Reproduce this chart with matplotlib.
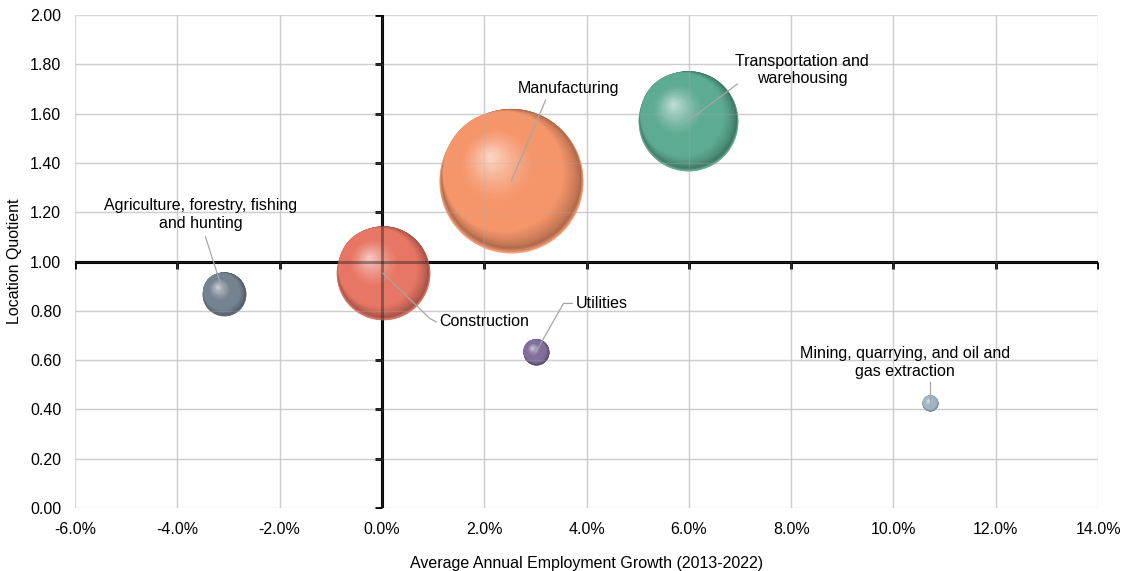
import numpy as np
import matplotlib
matplotlib.use('Agg')
import matplotlib.pyplot as plt
from matplotlib.colors import to_rgb
from matplotlib.transforms import ScaledTranslation
from matplotlib.ticker import FuncFormatter, MultipleLocator

plt.rcParams['font.family'] = ['Liberation Sans', 'DejaVu Sans']
plt.rcParams['font.size'] = 11.5

# data
industries = ['Agriculture, forestry, fishing\nand hunting', 'Construction', 'Manufacturing',
              'Transportation and\nwarehousing', 'Utilities',
              'Mining, quarrying, and oil and\ngas extraction']
growth = [-3.09, 0.02, 2.53, 5.98, 3.01, 10.72]      # %
lq = [0.868, 0.953, 1.327, 1.57, 0.633, 0.426]
employment = [480, 2200, 5200, 2500, 170, 64]        # bubble size
colors = ['#75828f', '#e87664', '#f5956a', '#5dab92', '#826e9b', '#9fb5c5']

# label placement
label_xy = [(-3.54, 1.19), (1.12, 0.755), (3.64, 1.70), (8.21, 1.777), (3.78, 0.83), (10.22, 0.59)]
label_ha = ['center', 'left', 'center', 'center', 'left', 'center']

fig = plt.figure(figsize=(11.23, 5.71), dpi=100)
ax = fig.add_axes([0.0668, 0.1103, 0.911, 0.8634])

ax.set_xlim(-6, 14)
ax.set_ylim(0, 2)
ax.xaxis.set_major_locator(MultipleLocator(2))
ax.yaxis.set_major_locator(MultipleLocator(0.2))
ax.xaxis.set_major_formatter(FuncFormatter(lambda v, p: f'{v:.1f}%'))
ax.yaxis.set_major_formatter(FuncFormatter(lambda v, p: f'{v:.2f}'))
ax.grid(True, color='#d9d9d9', lw=1, zorder=0)
for s in ax.spines.values():
    s.set_visible(False)
ax.tick_params(length=0, labelsize=11.5, pad=10)
ax.set_xlabel('Average Annual Employment Growth (2013-2022)', fontsize=11.5, labelpad=14)
ax.set_ylabel('Location Quotient', fontsize=11.5, labelpad=6)

# quadrant axes
ax.axhline(1, color='black', lw=2.2, zorder=2)
ax.axvline(0, color='black', lw=2.2, zorder=2)
xt = np.arange(-6, 15, 2)
yt = np.arange(0, 2.01, 0.2)
ax.plot(xt, np.ones_like(xt), ls='none', marker=3, ms=5, mew=2, color='black', zorder=2)
ax.plot(np.zeros_like(yt), yt, ls='none', marker=0, ms=5, mew=2, color='black', zorder=2)

scale = 2.07


def shift(dx, dy):
    return ax.transData + ScaledTranslation(dx / 72, dy / 72, fig.dpi_scale_trans)


def sphere(x, y, size, color):
    base = np.array(to_rgb(color))
    dark = base * 0.7
    rim = base + (1 - base) * 0.1
    light = base + (1 - base) * 0.6
    r = np.sqrt(size) / 2
    ax.scatter([x], [y], s=size, color=rim, lw=0, zorder=3)
    # soft lower rim
    n = 6
    for i in range(n):
        t = (i + 1) / n
        c = rim + (dark - rim) * t
        ax.scatter([x], [y], s=size * (1 - 0.035 * t) ** 2, color=c, lw=0, zorder=3,
                   transform=shift(0, 0.035 * r * t))
    # dark edge -> base body
    n = 18
    for i in range(n):
        t = i / (n - 1)
        sc = 0.965 - 0.13 * t
        c = dark + (base - dark) * t ** 0.7
        ax.scatter([x], [y], s=size * sc ** 2, color=c, lw=0, zorder=3,
                   transform=shift(-0.12 * r * t, 0.035 * r + 0.1 * r * t))
    # soft highlight
    n = 22
    for i in range(n):
        t = i / (n - 1)
        sc = 0.5 * (1 - t) + 0.03
        c = base + (light - base) * t ** 1.3
        ax.scatter([x], [y], s=size * sc ** 2, color=c, lw=0, zorder=3,
                   transform=shift(-0.2 * r - 0.1 * r * t, 0.22 * r + 0.12 * r * t))


for gx, gy, e, c in zip(growth, lq, employment, colors):
    sphere(gx, gy, e * scale, c)

# gridlines and axis lines faintly showing through bubbles
for v in xt[1:-1]:
    ax.axvline(v, color='#b0b0b0', lw=1, alpha=0.25, zorder=4)
for v in yt[1:-1]:
    ax.axhline(v, color='#b0b0b0', lw=1, alpha=0.25, zorder=4)
ax.axhline(1, color='black', lw=2.2, alpha=0.35, zorder=4)
ax.axvline(0, color='black', lw=2.2, alpha=0.35, zorder=4)

# labels with leader lines
lc = '#a6a6a6'
for i, name in enumerate(industries):
    lx, ly = label_xy[i]
    ax.text(lx, ly, name, ha=label_ha[i], va='center', fontsize=11.5, zorder=6,
            linespacing=1.2)

ax.plot([growth[0], -3.45], [lq[0], 1.10], color=lc, lw=0.9, zorder=5)
ax.plot([growth[1], 0.93, 1.06], [lq[1], 0.77, 0.755], color=lc, lw=0.9, zorder=5)
ax.plot([growth[2], 3.2], [lq[2], 1.655], color=lc, lw=0.9, zorder=5)
ax.plot([growth[3], 6.95], [lq[3], 1.72], color=lc, lw=0.9, zorder=5)
ax.plot([growth[4], 3.55, 3.72], [lq[4], 0.83, 0.83], color=lc, lw=0.9, zorder=5)
ax.plot([growth[5], 10.72], [lq[5], 0.51], color=lc, lw=0.9, zorder=5)

fig.savefig('out.png', dpi=100)
